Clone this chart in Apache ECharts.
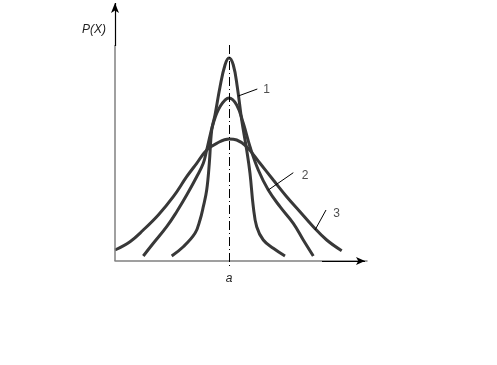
<!DOCTYPE html>
<html><head><meta charset="utf-8">
<script src="https://cdn.jsdelivr.net/npm/echarts@6/dist/echarts.min.js"></script>
<style>html,body{margin:0;padding:0;background:#fff}#c{width:497px;height:365px}</style>
</head><body><div id="c"></div>
<script>
// x measured relative to the mean a (a = 0), y = P(X) height (arbitrary units)
const curve1 = [[-57.3,5],[-45.7,14.3],[-34,27.7],[-29,41],[-25.7,54.3],[-22.3,71],[-19.7,97.7],[-17.3,131],[-14,146],[-9,174],[-4,196],[0,203],[4.3,196],[8.3,174],[12.7,141],[17.7,111],[21,87.7],[24.3,54.3],[27.7,34.3],[34.3,21],[44.3,12.7],[56,5]];
const curve2 = [[-85.7,5],[-75.7,17.7],[-62.3,34.3],[-52.3,49.3],[-42.3,66],[-32.3,84.3],[-25.7,97.7],[-22.3,111],[-15.7,137.7],[-9,154.3],[0,163],[7.7,156],[14.3,137.7],[21,114.3],[29.3,91],[39.3,71],[51,54.3],[64.3,37.7],[74.3,21],[84.3,5]];
const curve3 = [[-114,11],[-99,19.3],[-85.7,31],[-70.7,46],[-55.7,64.3],[-42.3,84.3],[-32.3,97.7],[-22.3,111],[-12.3,117.7],[0,122],[7.7,121],[17.7,114.3],[31,97.7],[44.3,81],[57.7,64.3],[71,49.3],[84.3,34.3],[97.7,21],[112.7,10.3]];
const curveLabels = ['1','2','3'];
const leaderStart = [[9.3,165],[39.3,71],[86,31]];
const leaderEnd = [[28.3,172],[64.3,88.3],[97,51]];
const labelPos = [[37.7,171],[76,85.3],[107.7,47.7]];
const meanLabel = 'a';
const yName = 'P(X)';

const chart = echarts.init(document.getElementById('c'), null, {renderer:'canvas'});
const curveStyle = {color:'#383838', width:3};
function curveSeries(d){
  return {type:'line', data:d, smooth:0.4, symbol:'none', lineStyle:curveStyle, clip:false, silent:true};
}
const thin = {color:'#000', width:1, type:'solid'};
chart.setOption({
  animation:false,
  title:{text:yName, left:77, top:19, textStyle:{fontFamily:'Liberation Sans', fontSize:12, fontWeight:'normal', fontStyle:'italic', color:'#222'}},
  grid:{left:115, right:130, top:3, bottom:96},
  xAxis:{type:'value', min:-114, max:138, splitLine:{show:false},
    axisLine:{show:true, onZero:true, lineStyle:{color:'#808080', width:1.5}},
    axisTick:{show:false},
    axisLabel:{show:true, customValues:[0], formatter:()=>meanLabel, margin:4, fontSize:12, fontStyle:'italic', fontFamily:'Liberation Sans', color:'#222'}},
  yAxis:{type:'value', min:-8, max:258, splitLine:{show:false},
    axisLine:{show:false}, axisTick:{show:false}, axisLabel:{show:false}},
  series:[
    curveSeries(curve1), curveSeries(curve2), curveSeries(curve3),
    {type:'line', data:[], symbol:'none', silent:true,
      markLine:{silent:true, symbol:['none','none'], label:{show:false}, animation:false,
        data:[
          [{coord:[-114,0], lineStyle:{color:'#808080', width:1.5, type:'solid'}},{coord:[-114,216]}],
          [{coord:[0,216], lineStyle:{color:'#000', width:1, type:[9,3,1,3]}},{coord:[0,-6]}],
          ...leaderStart.map((s,i)=>[{coord:s, lineStyle:thin},{coord:leaderEnd[i]}]),
          [{coord:[93,0], lineStyle:thin, symbol:'none'},{coord:[136,0], symbol:'arrow', symbolSize:[6,9]}],
          [{coord:[-114,215], lineStyle:{color:'#000', width:1.2, type:'solid'}, symbol:'none'},{coord:[-114,258], symbol:'arrow', symbolSize:[6,10]}]
        ]}},
    {type:'scatter', data:labelPos.map((p,i)=>({value:p, name:curveLabels[i]})), symbolSize:0, silent:true,
      label:{show:true, position:'inside', formatter:p=>p.name, fontFamily:'Liberation Sans', fontSize:12, color:'#222'}}
  ]
});
</script></body></html>
